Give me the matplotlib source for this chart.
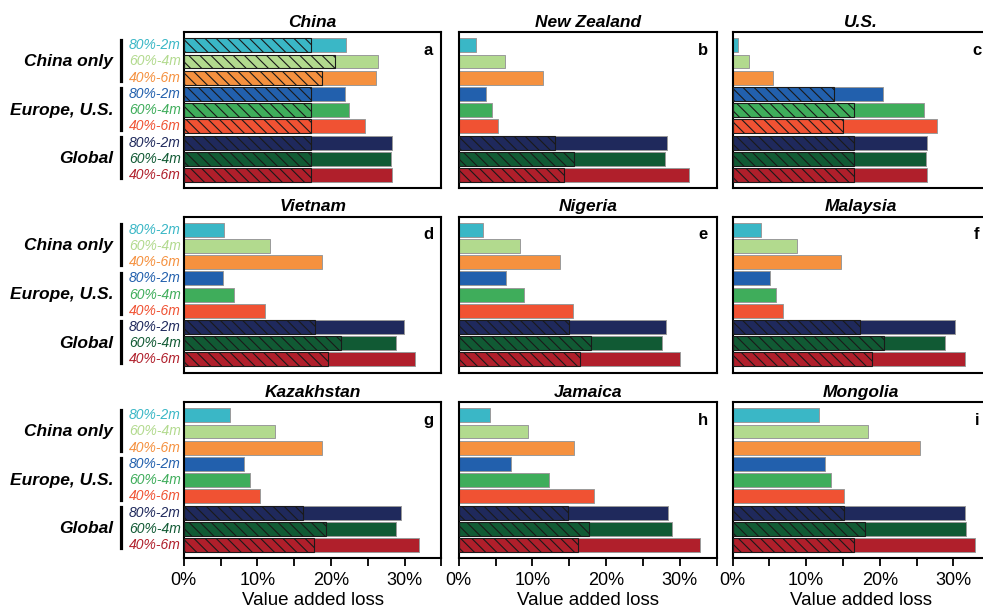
import numpy as np
import matplotlib
matplotlib.use('Agg')
import matplotlib.pyplot as plt
from matplotlib.lines import Line2D

plt.rcParams['font.family'] = ['Liberation Sans', 'DejaVu Sans']
plt.rcParams['hatch.linewidth'] = 0.8

# Categories and labels.
groups = ['China only', 'Europe, U.S.', 'Global']
scenarios = ['80%-2m', '60%-4m', '40%-6m']
countries = ['China', 'New Zealand', 'U.S.',
             'Vietnam', 'Nigeria', 'Malaysia',
             'Kazakhstan', 'Jamaica', 'Mongolia']
letters = ['a', 'b', 'c', 'd', 'e', 'f', 'g', 'h', 'i']
x_ticks = [0, 5, 10, 15, 20, 25, 30, 35]
x_ticklabels = ['0%', '', '10%', '', '20%', '', '30%', '']

# Value added loss (%), bar order: China only, Europe/U.S., Global x 3 scenarios.
loss_china = [22.0, 26.35, 26.1, 21.95, 22.5, 24.6, 28.3, 28.1, 28.25]
loss_nz = [2.4, 6.25, 11.5, 3.75, 4.5, 5.3, 28.25, 27.95, 31.2]
loss_us = [0.7, 2.3, 5.5, 20.4, 26.05, 27.8, 26.45, 26.25, 26.4]
loss_vietnam = [5.5, 11.7, 18.8, 5.3, 6.8, 11.05, 29.9, 28.8, 31.4]
loss_nigeria = [3.3, 8.25, 13.8, 6.4, 8.9, 15.5, 28.2, 27.55, 30.1]
loss_malaysia = [3.85, 8.8, 14.75, 5.1, 5.85, 6.8, 30.25, 28.9, 31.55]
loss_kazakhstan = [6.3, 12.4, 18.75, 8.2, 8.95, 10.4, 29.55, 28.9, 32.0]
loss_jamaica = [4.3, 9.45, 15.6, 7.15, 12.2, 18.4, 28.45, 28.95, 32.7]
loss_mongolia = [11.8, 18.4, 25.4, 12.6, 13.4, 15.1, 31.6, 31.75, 32.9]

# Hatched part of each bar (nan = no hatched part).
n = np.nan
hatch_china = [17.25, 20.55, 18.8, 17.25, 17.25, 17.25, 17.25, 17.25, 17.25]
hatch_nz = [n, n, n, n, n, n, 13.1, 15.6, 14.25]
hatch_us = [n, n, n, 13.8, 16.45, 15.0, 16.45, 16.45, 16.45]
hatch_vietnam = [n, n, n, n, n, n, 17.9, 21.3, 19.55]
hatch_nigeria = [n, n, n, n, n, n, 15.0, 17.9, 16.4]
hatch_malaysia = [n, n, n, n, n, n, 17.3, 20.6, 18.9]
hatch_kazakhstan = [n, n, n, n, n, n, 16.25, 19.35, 17.75]
hatch_jamaica = [n, n, n, n, n, n, 14.8, 17.75, 16.25]
hatch_mongolia = [n, n, n, n, n, n, 15.2, 18.05, 16.55]

losses = [loss_china, loss_nz, loss_us, loss_vietnam, loss_nigeria,
          loss_malaysia, loss_kazakhstan, loss_jamaica, loss_mongolia]
hatches = [hatch_china, hatch_nz, hatch_us, hatch_vietnam, hatch_nigeria,
           hatch_malaysia, hatch_kazakhstan, hatch_jamaica, hatch_mongolia]

colors = ['#3ab7c6', '#b2da8e', '#f5913f',
          '#2260ad', '#3fad5b', '#f05233',
          '#1f295c', '#115a34', '#b01f2b']

# Layout in pixels (figure is 983 x 614).
W, H = 983., 614.
col_left = [183.7, 458.8, 732.5]
col_width = 257.7
row_top = [32.3, 216.7, 402.3]
row_height = 156.

fig = plt.figure(figsize=(W / 100, H / 100), dpi=100)
ypos = np.arange(9)

for i in range(9):
    r, c = divmod(i, 3)
    ax = fig.add_axes([col_left[c] / W, 1 - (row_top[r] + row_height) / H,
                       col_width / W, row_height / H])
    ax.barh(ypos, losses[i], height=0.86, color=colors,
            edgecolor='#9a9a9a', linewidth=0.7, zorder=2)
    hv = np.array(hatches[i])
    ok = ~np.isnan(hv)
    ax.barh(ypos[ok], hv[ok], height=0.86, facecolor='none',
            edgecolor='#1a1a1a', linewidth=0.8, hatch='\\\\\\', zorder=3)

    ax.set_xlim(0, 35)
    ax.set_ylim(8.82, -0.8)
    ax.set_yticks([])
    for s in ax.spines.values():
        s.set_linewidth(1.5)
    ax.set_title(countries[i], fontsize=12.5, fontweight='bold',
                 fontstyle='italic', pad=4)
    ax.text(0.948, 0.885, letters[i], transform=ax.transAxes,
            fontsize=12, fontweight='bold', ha='center', va='center')

    if r == 2:
        ax.set_xticks(x_ticks)
        ax.set_xticklabels(x_ticklabels)
        ax.tick_params(axis='x', direction='out', length=6, width=1.3,
                       labelsize=13, pad=4)
        ax.set_xlabel('Value added loss', fontsize=13.5, labelpad=2)
    else:
        ax.tick_params(axis='x', bottom=False, labelbottom=False)

    if c == 0:
        tr = ax.get_yaxis_transform()
        for k in range(9):
            ax.text(-0.012, k, scenarios[k % 3], transform=tr,
                    fontsize=10, fontstyle='italic', color=colors[k],
                    ha='right', va='center')
        for g, name in enumerate(groups):
            ax.text(-0.274, 3 * g + 1, name, transform=tr,
                    fontsize=12.5, fontweight='bold', fontstyle='italic',
                    ha='right', va='center')
            ax.add_line(Line2D([-0.243, -0.243], [3 * g - 0.35, 3 * g + 2.2],
                               transform=tr, color='black', linewidth=2.3,
                               clip_on=False))

fig.savefig('out.png', dpi=100)
